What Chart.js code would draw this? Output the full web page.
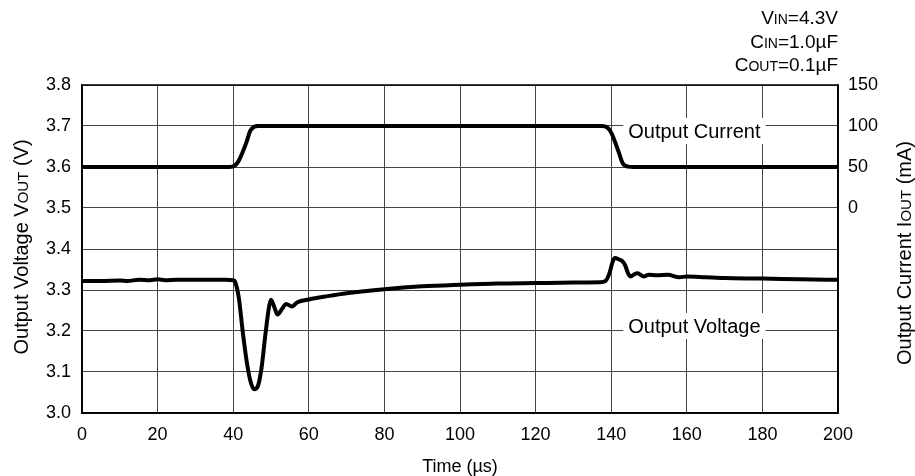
<!DOCTYPE html>
<html>
<head>
<meta charset="utf-8">
<title>Load transient</title>
<script src="https://cdn.jsdelivr.net/npm/chart.js@4/dist/chart.umd.min.js"></script>
<style>
  body { margin: 0; background: #fff; }
  canvas { display: block; }
</style>
</head>
<body>
<canvas id="chart" width="915" height="476"></canvas>
<script>
// Output voltage trace (time in us, volts)
const voltTime = [0, 5, 10, 12, 15, 18, 20, 22, 25, 30, 35, 38, 40, 40.5, 41.5, 42.5, 43.5, 44.5, 45.5, 46.5, 47.5, 48.5, 49.5, 50, 51, 51.7, 53, 54, 55.5, 57, 60, 65, 70, 80, 90, 100, 110, 120, 130, 137, 138.5, 139.5, 140.5, 141, 142, 143, 143.7, 144.5, 145.2, 146, 147, 148.5, 150, 152, 155, 158, 160, 165, 170, 180, 190, 200];
const voltValues = [3.322, 3.322, 3.323, 3.322, 3.325, 3.324, 3.326, 3.324, 3.325, 3.325, 3.325, 3.325, 3.324, 3.32, 3.28, 3.2, 3.13, 3.08, 3.058, 3.065, 3.11, 3.19, 3.26, 3.276, 3.255, 3.24, 3.255, 3.266, 3.26, 3.27, 3.277, 3.285, 3.292, 3.302, 3.309, 3.313, 3.316, 3.317, 3.318, 3.319, 3.322, 3.34, 3.372, 3.378, 3.375, 3.37, 3.36, 3.34, 3.333, 3.338, 3.341, 3.333, 3.337, 3.336, 3.337, 3.331, 3.333, 3.331, 3.329, 3.328, 3.326, 3.325];

// Output current trace (time in us, mA)
const currTime = [0, 39, 40.5, 41.5, 43.5, 44.5, 45.5, 46.5, 137.5, 139, 140, 142, 143, 144.5, 146, 200];
const currValues = [50, 50, 52, 58, 80, 94, 99, 100, 100, 98, 92, 68, 55, 50.5, 50, 50];

// Axis ranges / ticks
const timeTicks = [0, 200, 20];
const voltRange = [3.0, 3.8, 0.1];
const currRange = [-250, 150, 50];

const FONT = '"Liberation Sans", Arial, Helvetica, sans-serif';

function toPoints(xs, ys) {
    return xs.map((x, i) => ({ x: x, y: ys[i] }));
}

// draw text made of parts with different sizes (for small-caps subscripts)
function richWidth(ctx, parts) {
    let w = 0;
    parts.forEach(p => {
        ctx.font = p[1] + 'px ' + FONT;
        w += ctx.measureText(p[0]).width;
    });
    return w;
}

function drawRich(ctx, parts, x, y, align) {
    const w = richWidth(ctx, parts);
    let cx = x;
    if (align === 'right') cx = x - w;
    if (align === 'center') cx = x - w / 2;
    ctx.textAlign = 'left';
    ctx.textBaseline = 'alphabetic';
    parts.forEach(p => {
        ctx.font = p[1] + 'px ' + FONT;
        ctx.fillText(p[0], cx, y);
        cx += ctx.measureText(p[0]).width;
    });
    return w;
}

const textPlugin = {
    id: 'texts',
    beforeDatasetsDraw(chart) {
        const ctx = chart.ctx;
        const xs = chart.scales.x;
        const ys = chart.scales.y;
        ctx.save();
        // labels sitting on white boxes over the grid: [text, time, volts, baseline offset]
        const labels = [['Output Current', 144.5, 3.7, 12], ['Output Voltage', 144.5, 3.2, 2]];
        labels.forEach(l => {
            const px = xs.getPixelForValue(l[1]);
            const py = ys.getPixelForValue(l[2]);
            ctx.font = '20px ' + FONT;
            const w = ctx.measureText(l[0]).width;
            const base = py + l[3];
            ctx.fillStyle = '#fff';
            ctx.fillRect(px - 5, base - 20, w + 10, 26);
            ctx.fillStyle = '#000';
            ctx.textAlign = 'left';
            ctx.textBaseline = 'alphabetic';
            ctx.fillText(l[0], px, base);
        });
        ctx.restore();
    },
    afterDraw(chart) {
        const ctx = chart.ctx;
        const a = chart.chartArea;
        ctx.save();
        ctx.strokeStyle = '#000';
        ctx.lineWidth = 1.5;
        ctx.strokeRect(a.left, a.top, a.right - a.left, a.bottom - a.top);

        ctx.fillStyle = '#000';
        // conditions, top right
        drawRich(ctx, [['V', 19], ['IN', 14], ['=4.3V', 19]], a.right, 24, 'right');
        drawRich(ctx, [['C', 19], ['IN', 14], ['=1.0\u00b5F', 19]], a.right, 48, 'right');
        drawRich(ctx, [['C', 19], ['OUT', 14], ['=0.1\u00b5F', 19]], a.right, 71, 'right');

        // x axis title
        drawRich(ctx, [['Time (\u00b5s)', 18]], (a.left + a.right) / 2, 472, 'center');

        // left axis title
        ctx.save();
        ctx.translate(28, (a.top + a.bottom) / 2 - 2);
        ctx.rotate(-Math.PI / 2);
        drawRich(ctx, [['Output Voltage V', 20], ['OUT', 15], [' (V)', 20]], 0, 0, 'center');
        ctx.restore();

        // right axis title
        ctx.save();
        ctx.translate(911, (a.top + a.bottom) / 2 + 4);
        ctx.rotate(-Math.PI / 2);
        drawRich(ctx, [['Output Current I', 20], ['OUT', 15], [' (mA)', 20]], 0, 0, 'center');
        ctx.restore();
        ctx.restore();
    }
};

const gridColor = '#444';

new Chart(document.getElementById('chart'), {
    type: 'line',
    data: {
        datasets: [
            {
                label: 'Output Voltage',
                data: toPoints(voltTime, voltValues),
                yAxisID: 'y',
                borderColor: '#000',
                borderWidth: 4,
                pointRadius: 0,
                cubicInterpolationMode: 'monotone',
                fill: false
            },
            {
                label: 'Output Current',
                data: toPoints(currTime, currValues),
                yAxisID: 'y1',
                borderColor: '#000',
                borderWidth: 4,
                pointRadius: 0,
                cubicInterpolationMode: 'monotone',
                fill: false
            }
        ]
    },
    options: {
        responsive: false,
        animation: false,
        events: [],
        layout: { padding: { top: 85, left: 0, right: 0, bottom: 0 } },
        plugins: {
            legend: { display: false },
            tooltip: { enabled: false },
            title: { display: false }
        },
        scales: {
            x: {
                type: 'linear',
                min: timeTicks[0],
                max: timeTicks[1],
                ticks: {
                    stepSize: timeTicks[2],
                    color: '#000',
                    padding: 11,
                    maxRotation: 0,
                    font: { family: FONT, size: 18 }
                },
                grid: { color: gridColor, lineWidth: 1, drawTicks: false },
                border: { color: '#000', width: 1.5 },
                afterFit(s) { s.height = 63; }
            },
            y: {
                type: 'linear',
                position: 'left',
                min: voltRange[0],
                max: voltRange[1],
                ticks: {
                    stepSize: voltRange[2],
                    color: '#000',
                    padding: 11,
                    font: { family: FONT, size: 18 },
                    callback: v => v.toFixed(1)
                },
                grid: { color: gridColor, lineWidth: 1, drawTicks: false },
                border: { color: '#000', width: 1.5 },
                afterFit(s) { s.width = 82; }
            },
            y1: {
                type: 'linear',
                position: 'right',
                min: currRange[0],
                max: currRange[1],
                ticks: {
                    stepSize: currRange[2],
                    color: '#000',
                    padding: 10,
                    font: { family: FONT, size: 18 },
                    callback: v => (v >= 0 ? v : '')
                },
                grid: { display: false, drawTicks: false },
                border: { color: '#000', width: 1.5 },
                afterFit(s) { s.width = 77; }
            }
        }
    },
    plugins: [textPlugin]
});
</script>
</body>
</html>
